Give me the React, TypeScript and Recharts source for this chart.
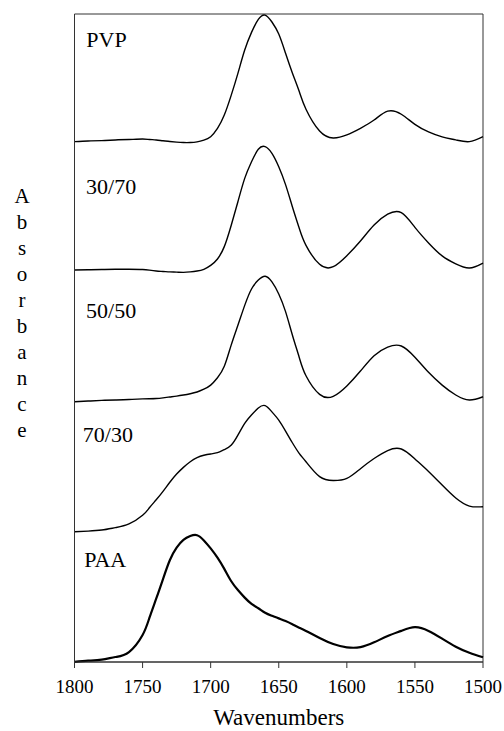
import { LineChart, Line, XAxis, YAxis, ReferenceArea, ReferenceDot } from 'recharts';

const FONT = '"Liberation Serif", "Times New Roman", Times, serif';

// x axis runs from 1800 down to 1500 cm-1
const TICKS = [1800, 1750, 1700, 1650, 1600, 1550, 1500];

const WAVENUMBERS = [
    1800, 1790, 1780, 1770, 1760, 1750, 1745, 1740, 1735, 1730, 1725, 1720, 1715, 1710, 1705,
    1700, 1695, 1690, 1685, 1680, 1675, 1670, 1665, 1660, 1655, 1650, 1645, 1640, 1635, 1630,
    1620, 1610, 1600, 1590, 1580, 1570, 1560, 1550, 1540, 1530, 1520, 1510, 1500,
];

const PVP = [
    0.009, 0.012, 0.014, 0.017, 0.019, 0.021, 0.019, 0.017, 0.013, 0.010, 0.007, 0.005, 0.005, 0.008, 0.016,
    0.032, 0.070, 0.132, 0.222, 0.325, 0.433, 0.515, 0.575, 0.595, 0.563, 0.507, 0.418, 0.327, 0.242, 0.159,
    0.058, 0.026, 0.040, 0.071, 0.109, 0.150, 0.136, 0.089, 0.054, 0.031, 0.017, 0.009, 0.032,
];

const PVP_30_70 = [
    0.015, 0.016, 0.017, 0.018, 0.018, 0.017, 0.014, 0.010, 0.008, 0.006, 0.005, 0.004, 0.006, 0.010, 0.018,
    0.036, 0.066, 0.123, 0.220, 0.331, 0.439, 0.516, 0.574, 0.586, 0.555, 0.493, 0.410, 0.308, 0.209, 0.129,
    0.041, 0.030, 0.081, 0.149, 0.223, 0.273, 0.280, 0.212, 0.140, 0.080, 0.043, 0.024, 0.047,
];

const PVP_50_50 = [
    0.005, 0.008, 0.011, 0.013, 0.015, 0.018, 0.019, 0.020, 0.023, 0.027, 0.031, 0.036, 0.042, 0.050, 0.063,
    0.082, 0.116, 0.169, 0.266, 0.359, 0.451, 0.527, 0.568, 0.586, 0.560, 0.504, 0.422, 0.314, 0.211, 0.125,
    0.039, 0.030, 0.078, 0.147, 0.218, 0.258, 0.263, 0.211, 0.141, 0.082, 0.036, 0.013, 0.028,
];

const PVP_70_30 = [
    0.003, 0.006, 0.011, 0.022, 0.039, 0.079, 0.114, 0.151, 0.190, 0.232, 0.270, 0.301, 0.327, 0.346, 0.357,
    0.363, 0.369, 0.383, 0.403, 0.450, 0.505, 0.544, 0.576, 0.587, 0.558, 0.520, 0.469, 0.415, 0.366, 0.327,
    0.258, 0.240, 0.250, 0.295, 0.342, 0.379, 0.386, 0.340, 0.282, 0.219, 0.159, 0.122, 0.119,
];

const PAA = [
    0.001, 0.006, 0.011, 0.023, 0.046, 0.125, 0.204, 0.293, 0.384, 0.471, 0.529, 0.565, 0.583, 0.587, 0.563,
    0.526, 0.483, 0.431, 0.375, 0.333, 0.298, 0.269, 0.249, 0.228, 0.214, 0.202, 0.190, 0.175, 0.159, 0.144,
    0.111, 0.083, 0.068, 0.069, 0.091, 0.120, 0.144, 0.161, 0.144, 0.108, 0.071, 0.043, 0.022,
];

const SERIES = ['PVP', '30/70', '50/50', '70/30', 'PAA'];
const CURVES = [PVP, PVP_30_70, PVP_50_50, PVP_70_30, PAA];
// vertical stacking of the spectra
const OFFSETS = [2.4, 1.8, 1.2, 0.6, 0];

const Y_TITLE = 'Absorbance';

function AbsorbanceTitle() {
    const letters = Y_TITLE.split('');
    return (
        <text x={22} y={203} textAnchor="middle" fontSize={21} fill="#000" style={{ fontFamily: FONT }}>
            {letters.map((ch, i) => (
                <tspan key={i} x={22} dy={i === 0 ? 0 : 26}>{ch}</tspan>
            ))}
        </text>
    );
}

export default function App() {
    const data = WAVENUMBERS.map((wn, i) => {
        const row: Record<string, number> = { wn };
        SERIES.forEach((name, s) => {
            row[name] = CURVES[s][i] + OFFSETS[s];
        });
        return row;
    });

    // where each curve name sits (in data units)
    const labels = [
        { wn: 1795.7, y: 2.883 },
        { wn: 1795.9, y: 2.205 },
        { wn: 1795.9, y: 1.627 },
        { wn: 1798.3, y: 1.056 },
        { wn: 1797.3, y: 0.477 },
    ];

    return (
        <div style={{ position: 'absolute', left: 0, top: 0, width: 504, height: 731, background: '#fff', fontFamily: FONT }}>
            <LineChart
                width={504}
                height={731}
                data={data}
                margin={{ top: 14, right: 21, bottom: 0, left: 0 }}
                style={{ fontFamily: FONT }}
            >
                <XAxis
                    dataKey="wn"
                    type="number"
                    domain={[1500, 1800]}
                    reversed
                    ticks={TICKS}
                    interval={0}
                    height={69}
                    tickSize={6}
                    tickMargin={12}
                    axisLine={{ stroke: '#333' }}
                    tickLine={{ stroke: '#333' }}
                    tick={{ fill: '#000', fontSize: 19, fontFamily: FONT }}
                    label={{ value: 'Wavenumbers', position: 'insideBottom', offset: 6, fill: '#000', fontSize: 23, fontFamily: FONT }}
                />
                <YAxis
                    type="number"
                    domain={[0, 3]}
                    width={74.5}
                    tick={false}
                    tickLine={false}
                    axisLine={{ stroke: '#333' }}
                    label={<AbsorbanceTitle />}
                />
                <ReferenceArea x1={1800} x2={1500} y1={0} y2={3} fill="none" stroke="#333" strokeWidth={1} />
                {SERIES.map((name, s) => (
                    <Line
                        key={name}
                        type="natural"
                        dataKey={name}
                        stroke="#000"
                        strokeWidth={s === 4 ? 2.2 : 1.4}
                        dot={false}
                        activeDot={false}
                        isAnimationActive={false}
                    />
                ))}
                {SERIES.map((name, s) => (
                    <ReferenceDot
                        key={'lbl-' + name}
                        x={labels[s].wn}
                        y={labels[s].y}
                        r={1}
                        fill="none"
                        stroke="none"
                        label={{ value: name, position: 'right', offset: 5, fill: '#000', fontSize: 22, fontFamily: FONT }}
                    />
                ))}
            </LineChart>
        </div>
    );
}
